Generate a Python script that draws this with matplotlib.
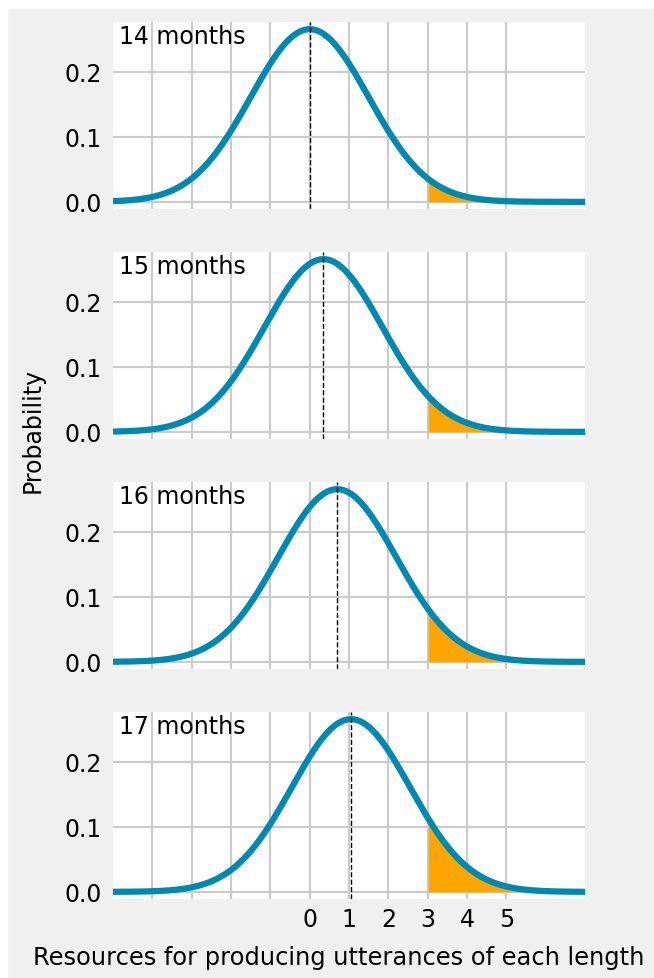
import matplotlib.pyplot as plt
import numpy as np

# age of each panel and the mean of its resource distribution
months = ["14 months", "15 months", "16 months", "17 months"]
means = [0.0, 0.35, 0.7, 1.05]
sd = 1.5
threshold = 3

xticks = [-4, -3, -2, -1, 0, 1, 2, 3, 4, 5]
xticklabels = ["", "", "", "", "0", "1", "2", "3", "4", "5"]
yticks = [0.0, 0.1, 0.2]

line_color = "#0089b0"
fill_color = "#ffa500"

plt.style.use("fivethirtyeight")
fig = plt.figure(figsize=(6.54, 9.79), dpi=100)
fig.patch.set_facecolor("white")
# grey backdrop, leaving a thin white margin at top and left
fig.patches.append(plt.Rectangle((8 / 654, 0), 1, 1 - 10 / 979,
	transform=fig.transFigure, color="#f0f0f0", zorder=-10))

W, H = 654.0, 979.0
x = np.linspace(-5, 7, 600)

for i, (label, mu) in enumerate(zip(months, means)):
	top = 23 + i * 230
	ax = fig.add_axes([113 / W, 1 - (top + 187) / H, 472 / W, 187 / H])
	ax.set_facecolor("white")
	y = np.exp(-0.5 * ((x - mu) / sd) ** 2) / (sd * np.sqrt(2 * np.pi))

	# shade the tail past the threshold
	mask = x >= threshold
	ax.fill_between(x[mask], 0, y[mask], color=fill_color, lw=0, zorder=2)
	ax.plot(x, y, color=line_color, lw=4.5, zorder=3, solid_capstyle="butt")
	ax.axvline(mu, color="black", lw=1, ls="--", zorder=4)

	ax.set_xlim(-5, 7)
	ax.set_ylim(-0.011, 0.277)
	ax.set_yticks(yticks)
	ax.set_yticklabels(["%.1f" % t for t in yticks])
	ax.set_xticks(xticks)
	if i == len(months) - 1:
		ax.set_xticklabels(xticklabels)
	else:
		ax.set_xticklabels([])
	ax.tick_params(axis="y", labelsize=17, length=0, pad=8)
	ax.tick_params(axis="x", labelsize=17, length=0, pad=6)
	ax.grid(True, color="#cbcbcb", lw=1.5)
	for s in ax.spines.values():
		s.set_visible(False)
	ax.text(0.012, 0.99, label, transform=ax.transAxes, ha="left", va="top",
		fontsize=17, zorder=5)

fig.text(33 / W, 1 - 430 / H, "Probability", rotation=90, ha="center",
	va="center", fontsize=17)
fig.text(339 / W, 1 - 958 / H, "Resources for producing utterances of each length",
	ha="center", va="center", fontsize=17.4)

plt.savefig("out.png", dpi=100, facecolor=fig.get_facecolor())
